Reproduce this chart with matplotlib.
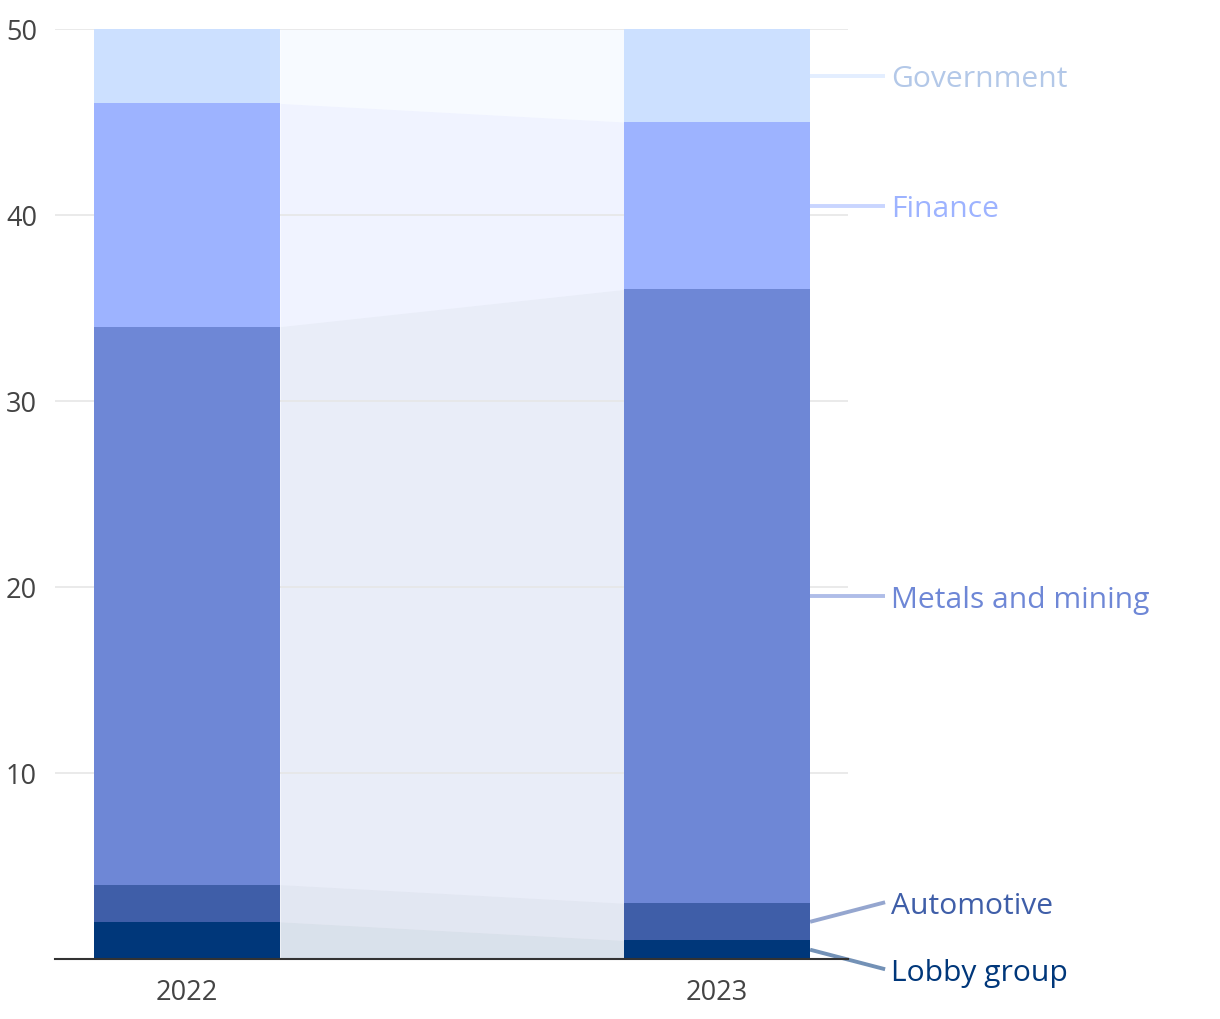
import numpy as np
import matplotlib.pyplot as plt

plt.rcParams['font.family'] = ['Open Sans', 'DejaVu Sans']

years = ["2022", "2023"]
sectors = ["Lobby group", "Automotive", "Metals and mining", "Finance", "Government"]
values_2022 = [2, 2, 30, 12, 4]
values_2023 = [1, 2, 33, 9, 5]
colors = ["#00377a", "#3f5ea8", "#6e87d6", "#9db3ff", "#cce0ff"]
text_colors = ["#00377a", "#3f5ea8", "#6e87d6", "#9db3ff", "#b3c8e8"]

x = np.arange(len(years))
width = 0.351

fig = plt.figure(figsize=(12.2, 10.2), dpi=100)
ax = fig.add_axes([55 / 1220, 60 / 1020, 793 / 1220, 930 / 1020])

data = np.array([values_2022, values_2023])
bottoms = np.vstack([np.zeros(2), np.cumsum(data, axis=1).T[:-1]]).T
tops = np.cumsum(data, axis=1)

for i, sec in enumerate(sectors):
    ax.bar(x, data[:, i], width, bottom=bottoms[:, i], color=colors[i], zorder=3)
    # connecting band between the two bars
    xs = [x[0] + width / 2, x[1] - width / 2]
    ax.fill_between(xs, [bottoms[0, i], bottoms[1, i]], [tops[0, i], tops[1, i]],
                    color=colors[i], alpha=0.15, linewidth=0, zorder=1)

# label placement next to the 2023 bar, pushed apart when too close
mids = bottoms[1] + data[1] / 2
label_y = mids.astype(float).copy()
min_gap = 3.6
for _ in range(50):
    for j in range(len(label_y) - 1):
        gap = label_y[j + 1] - label_y[j]
        if gap < min_gap:
            shift = (min_gap - gap) / 2
            label_y[j] -= shift
            label_y[j + 1] += shift

x_edge = x[1] + width / 2
x_end = 1.317
for i, sec in enumerate(sectors):
    ax.plot([x_edge, x_end], [mids[i], label_y[i]], color=colors[i], alpha=0.55,
            lw=2.8, clip_on=False, solid_capstyle='butt', zorder=2)
    ax.text(x_end + 0.011, label_y[i] - 0.15, sec, color=text_colors[i], fontsize=21.6,
            va='center', ha='left', clip_on=False)

ax.set_xlim(-0.249, 1.247)
ax.set_ylim(0, 50)
ax.set_yticks([10, 20, 30, 40, 50])
ax.set_xticks(x)
ax.set_xticklabels(years)
ax.grid(axis='y', color='#e6e6e6', lw=1.2, zorder=2)
ax.set_axisbelow(False)
for s in ['top', 'right', 'left']:
    ax.spines[s].set_visible(False)
ax.spines['bottom'].set_color('#333333')
ax.spines['bottom'].set_linewidth(1.5)
ax.spines['bottom'].set_zorder(4)
ax.tick_params(axis='both', length=0, labelsize=19.5, labelcolor='#444444')
ax.tick_params(axis='y', pad=13)
ax.tick_params(axis='x', pad=14)

plt.savefig("out.png", dpi=100)
